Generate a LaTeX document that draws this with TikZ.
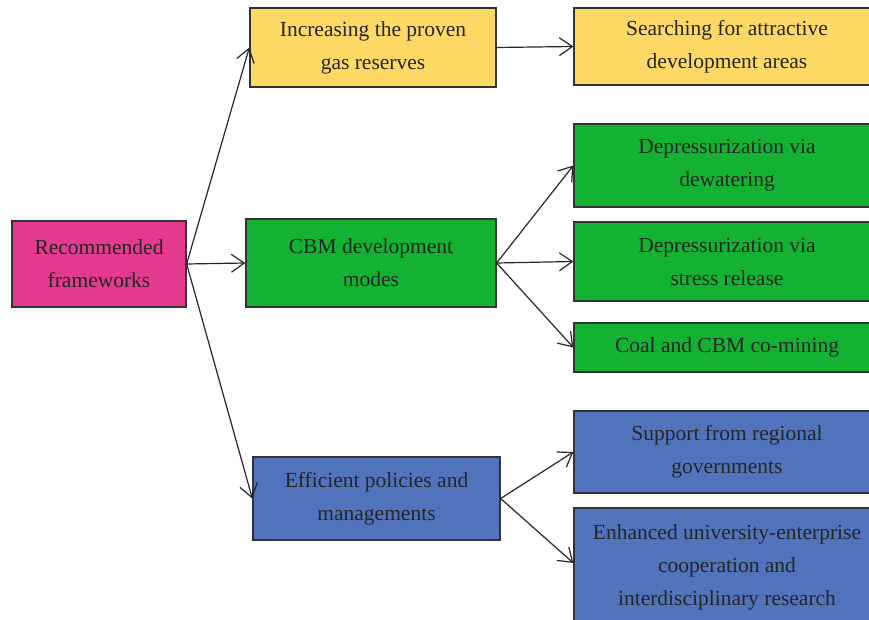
\documentclass[tikz,border=0pt]{standalone}
\usepackage{fontspec}
\setmainfont{Liberation Serif}
\usetikzlibrary{arrows.meta}
\definecolor{cmag}{HTML}{E3398E}
\definecolor{cyel}{HTML}{FDD865}
\definecolor{cgrn}{HTML}{13B233}
\definecolor{cblu}{HTML}{5173BC}
\begin{document}
\begin{tikzpicture}[x=1pt,y=-1pt,
  box/.style={draw=black!80, line width=1.3pt, inner sep=0pt, align=center,
    font=\fontsize{21.5}{33}\selectfont, text=black!85},
  arr/.style={-{Straight Barb[length=13pt,width=18pt]}, line width=1.2pt, draw=black!85}]
\useasboundingbox (0,0) rectangle (869,620);
\clip (0,0) rectangle (869,620);
\node[box, fill=cmag, minimum width=174pt, minimum height=86pt] (rec) at (99,264) {Recommended\\frameworks};
\node[box, fill=cyel, minimum width=246pt, minimum height=79pt] (inc) at (373,47.5) {Increasing the proven\\gas reserves};
\node[box, fill=cyel, minimum width=306pt, minimum height=77pt] (sea) at (727,46.5) {Searching for attractive\\development areas};
\node[box, fill=cgrn, minimum width=250pt, minimum height=88pt] (cbm) at (371,263) {CBM development\\modes};
\node[box, fill=cgrn, minimum width=306pt, minimum height=83pt] (dep1) at (727,165.5) {Depressurization via\\dewatering};
\node[box, fill=cgrn, minimum width=306pt, minimum height=79pt] (dep2) at (727,261.5) {Depressurization via\\stress release};
\node[box, fill=cgrn, minimum width=306pt, minimum height=49pt] (coal) at (727,347.5) {Coal and CBM co-mining};
\node[box, fill=cblu, minimum width=247pt, minimum height=83pt] (eff) at (376.5,498.5) {Efficient policies and\\managements};
\node[box, fill=cblu, minimum width=306pt, minimum height=82pt] (sup) at (727,452) {Support from regional\\governments};
\node[box, fill=cblu, minimum width=306pt, minimum height=118pt] (enh) at (727,567) {Enhanced university-enterprise\\cooperation and\\interdisciplinary research};
\draw[arr] (rec.east) -- (inc.west);
\draw[arr] (rec.east) -- (cbm.west);
\draw[arr] (rec.east) -- (eff.west);
\draw[arr] (inc.east) -- (sea.west);
\draw[arr] (cbm.east) -- (dep1.west);
\draw[arr] (cbm.east) -- (dep2.west);
\draw[arr] (cbm.east) -- (coal.west);
\draw[arr] (eff.east) -- (sup.west);
\draw[arr] (eff.east) -- ([yshift=4pt]enh.west);
\end{tikzpicture}
\end{document}
